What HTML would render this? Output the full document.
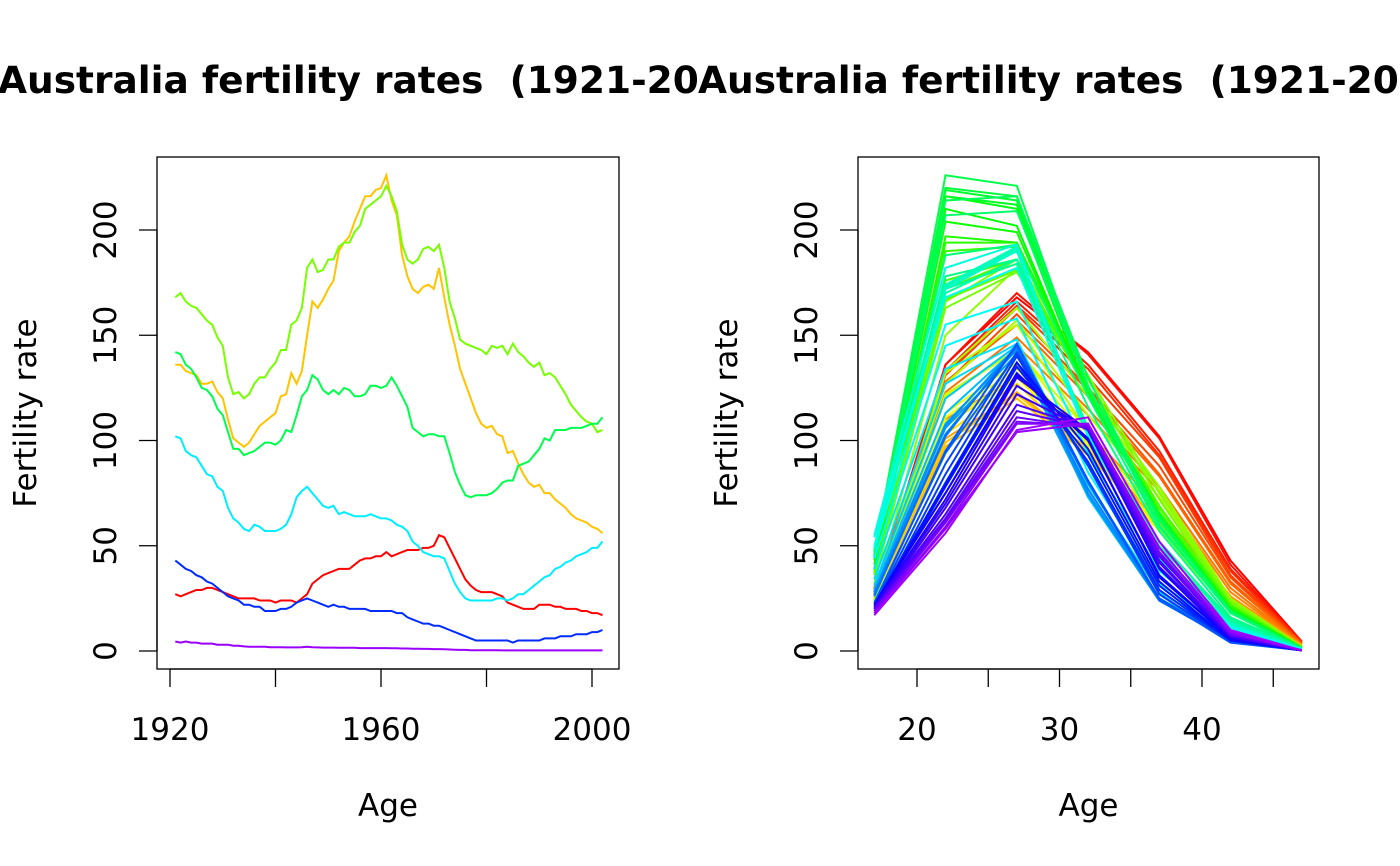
<!DOCTYPE html>
<html><head><meta charset="utf-8"><style>
html,body{margin:0;padding:0;background:#fff;}
svg{display:block;font-family:"DejaVu Sans","Liberation Sans",sans-serif;}
</style></head><body>
<svg id="chart" width="1400" height="866" viewBox="0 0 1400 866" xmlns="http://www.w3.org/2000/svg">
<defs>
<clipPath id="cl"><rect x="0" y="0" width="698" height="866"/></clipPath>
<clipPath id="cr"><rect x="698" y="0" width="702" height="866"/></clipPath>
</defs>
<text x="-2" y="93" font-size="37.5" font-weight="bold" clip-path="url(#cl)" style="white-space:pre">Australia fertility rates&#160; (1921-2002)</text>
<text x="698" y="93" font-size="37.5" font-weight="bold" clip-path="url(#cr)" style="white-space:pre">Australia fertility rates&#160; (1921-2002)</text>
<g id="left"></g>
<g id="right"></g>
</svg>
<script>
const years = []; for (let y = 1921; y <= 2002; y++) years.push(y);
const ageGroups = ["15-19","20-24","25-29","30-34","35-39","40-44","45-49"];
const ageMids = [17,22,27,32,37,42,47];
const rate15 = [27,26,27,28,29,29,30,30,29,28,27,26,25,25,25,25,24,24,24,23,24,24,24,23,25,27,32,34,36,37,38,39,39,39,41,43,44,44,45,45,47,45,46,47,48,48,48,49,49,50,55,54,49,44,39,34,31,29,28,28,28,27,26,23,22,21,20,20,20,22,22,22,21,21,20,20,20,19,19,18,18,17];
const rate20 = [136,136,133,132,131,127,127,128,123,120,110,101,99,97,99,103,107,109,111,113,121,122,132,127,133,150,166,163,167,172,176,190,194,197,204,210,216,216,219,220,226,214,207,188,178,172,170,173,174,172,182,168,155,145,134,127,120,113,108,106,107,103,102,94,95,89,84,80,78,79,75,75,72,70,68,65,63,62,61,59,58,56];
const rate25 = [168,170,166,164,163,160,157,155,149,145,130,122,123,120,122,127,130,130,134,137,143,143,155,157,163,182,186,180,181,186,186,192,194,194,199,202,210,212,214,216,221,216,209,193,186,184,186,191,192,190,193,182,166,158,148,146,145,144,143,141,145,144,145,141,146,142,140,137,135,137,131,132,130,126,122,117,114,111,109,108,104,105];
const rate30 = [142,141,136,134,130,125,124,121,115,112,104,96,96,93,94,95,97,99,99,98,100,105,104,112,121,124,131,129,124,122,124,122,125,124,121,121,122,126,126,125,126,130,126,121,116,106,104,102,103,103,102,102,94,85,79,74,73,74,74,74,75,77,80,81,81,88,89,90,93,96,101,100,105,105,105,106,106,106,107,108,108,111];
const rate35 = [102,101,95,93,92,88,84,83,78,76,68,63,61,58,57,60,59,57,57,57,58,60,65,73,76,78,75,72,69,68,69,65,66,65,64,64,64,65,64,63,63,62,60,59,57,52,50,47,46,45,45,44,38,32,28,25,24,24,24,24,24,25,25,24,25,27,27,29,31,33,35,36,39,40,42,43,45,46,47,49,49,52];
const rate40 = [43,41,39,38,36,35,33,32,30,28,26,25,24,22,22,21,21,19,19,19,20,20,21,23,24,25,24,23,22,21,22,21,21,20,20,20,20,19,19,19,19,19,18,18,16,15,14,13,13,12,12,11,10,9,8,7,6,5,5,5,5,5,5,5,4,5,5,5,5,5,6,6,6,7,7,7,8,8,8,9,9,10];
const rate45 = [4.5,4,4.5,4,4,3.5,3.5,3.5,3,3,3,2.5,2.5,2.2,2,2,2,2,1.8,1.8,1.8,1.7,1.7,1.7,1.8,2,1.8,1.7,1.6,1.6,1.6,1.5,1.5,1.5,1.5,1.4,1.4,1.4,1.4,1.4,1.4,1.3,1.3,1.2,1.2,1.1,1.1,1,1,0.9,0.9,0.8,0.7,0.6,0.5,0.5,0.4,0.4,0.4,0.4,0.4,0.4,0.3,0.3,0.3,0.3,0.3,0.3,0.3,0.3,0.3,0.3,0.3,0.3,0.3,0.3,0.3,0.3,0.3,0.3,0.3,0.3];
const rates = [rate15,rate20,rate25,rate30,rate35,rate40,rate45];
const yTicks = [0,50,100,150,200];
const leftXTicks = [1920,1940,1960,1980,2000];
const leftXLabels = [1920,1960,2000];
const rightXTicks = [20,25,30,35,40,45];
const rightXLabels = [20,30,40];

const NS = "http://www.w3.org/2000/svg";
const FS = 31;
function el(tag, attrs, parent){ const e=document.createElementNS(NS,tag); for(const k in attrs) e.setAttribute(k,attrs[k]); parent.appendChild(e); return e; }
const yS = v => 651 - v*2.105;
const xL = yr => 170 + (yr-1920)*5.275;
const xR = a => 917 + (a-20)*14.25;

function axes(g, x0, x1, xT, xLab, xf, pre){
  const box = el('rect',{x:x0,y:157,width:x1-x0,height:512,fill:'none',stroke:'#000','stroke-width':1.3},g);
  
  
  const ax = el('line',{x1:xf(xT[0]),x2:xf(xT[xT.length-1]),y1:669,y2:669,stroke:'#000','stroke-width':1.3},g);
  
  
  xT.forEach(t=>{ const l=el('line',{x1:xf(t),x2:xf(t),y1:669,y2:687,stroke:'#000','stroke-width':1.3},g);
    
     });
  xLab.forEach(t=>{ const tx=el('text',{x:xf(t),y:740,'font-size':FS,'text-anchor':'middle'},g); tx.textContent=t;
    
     });
  const ay = el('line',{x1:x0,x2:x0,y1:yS(0),y2:yS(200),stroke:'#000','stroke-width':1.3},g);
  
  
  yTicks.forEach(t=>{ const l=el('line',{x1:x0-18,x2:x0,y1:yS(t),y2:yS(t),stroke:'#000','stroke-width':1.3},g);
    
    
    const tx=el('text',{x:0,y:0,'font-size':FS,'text-anchor':'middle',transform:`translate(${x0-41},${yS(t)}) rotate(-90)`},g); tx.textContent=t;
    
     });
  const xt=el('text',{x:(x0+x1)/2,y:816,'font-size':FS,'text-anchor':'middle'},g); xt.textContent='Age';
  
  
  const yt=el('text',{x:0,y:0,'font-size':FS,'text-anchor':'middle',transform:`translate(${x0-121},413) rotate(-90)`},g); yt.textContent='Fertility rate';
  
  
}

const L = document.getElementById('left');
axes(L,157,619,leftXTicks,leftXLabels,xL,'left');
rates.forEach((s,j)=>{
  const hue = j*46;
  const pts = s.map((v,i)=>xL(years[i]).toFixed(1)+','+yS(v).toFixed(1)).join(' ');
  const p = el('polyline',{points:pts,fill:'none',stroke:`hsl(${hue},100%,50%)`,'stroke-width':2},L);
  
  
});

const R = document.getElementById('right');
axes(R,858,1319,rightXTicks,rightXLabels,xR,'right');
years.forEach((yr,i)=>{
  const hue = 278*i/(years.length-1);
  const pts = rates.map((s,j)=>xR(ageMids[j]).toFixed(1)+','+yS(s[i]).toFixed(1)).join(' ');
  const p = el('polyline',{points:pts,fill:'none',stroke:`hsl(${hue},100%,50%)`,'stroke-width':2},R);
  
  
});
</script>
</body></html>
